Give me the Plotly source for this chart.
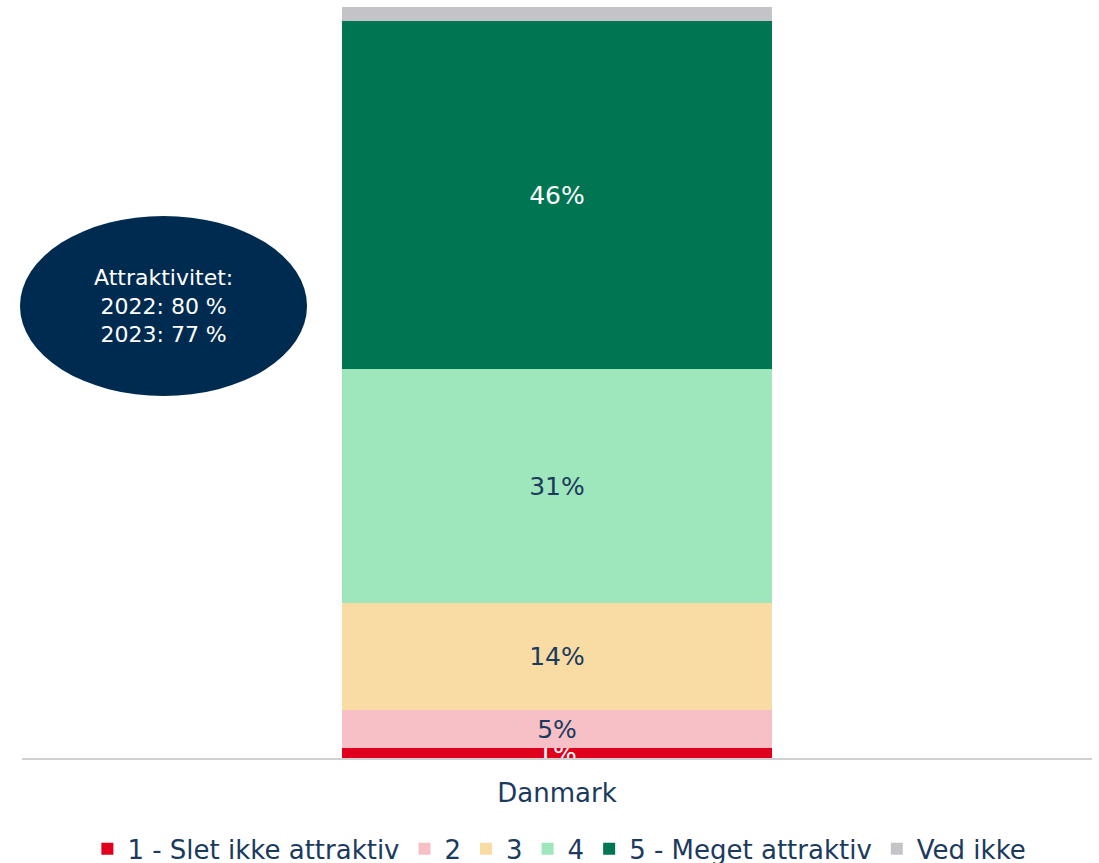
import plotly.graph_objects as go

categories = ["Danmark"]
series_names = ["1 - Slet ikke attraktiv", "2", "3", "4", "5 - Meget attraktiv", "Ved ikke"]
series_values = [[1.3], [5.1], [14.2], [31.2], [46.3], [1.9]]
series_labels = [["1%"], ["5%"], ["14%"], ["31%"], ["46%"], [""]]
colors = ["#E0001E", "#F6C0C6", "#F9DCA4", "#9EE6BB", "#007552", "#C4C4C8"]
text_colors = ["#FFFFFF", "#1B3A5E", "#1B3A5E", "#1B3A5E", "#FFFFFF", "#1B3A5E"]
note_text = "Attraktivitet:<br>2022: 80 %<br>2023: 77 %"

FONT = "DejaVu Sans"
fig = go.Figure()
for name, vals, labs, col, tcol in zip(series_names, series_values, series_labels, colors, text_colors):
    fig.add_trace(go.Bar(
        x=categories, y=vals, name=name, marker=dict(color=col, line=dict(width=0)),
        text=labs, texttemplate="%{text}", textposition="inside", insidetextanchor="middle",
        constraintext="none", textfont=dict(color=tcol, size=25, family=FONT),
        width=0.401, hoverinfo="skip",
    ))

fig.update_layout(
    barmode="stack",
    width=1099, height=863,
    margin=dict(l=22, r=7, t=7, b=105, autoexpand=False),
    plot_bgcolor="white", paper_bgcolor="white",
    font=dict(family=FONT, color="#1B3A5E"),
    showlegend=True,
    legend=dict(orientation="h", x=0.509, xanchor="center", xref="container",
                y=0.0165, yanchor="middle", yref="container",
                font=dict(size=26, color="#1B3A5E", family=FONT), itemwidth=30,
                traceorder="normal", itemclick=False),
    xaxis=dict(showline=True, linecolor="#D0D0D0", linewidth=1.5, tickfont=dict(size=26, color="#1B3A5E"),
               ticks="", range=[-0.5, 0.5], automargin=False, ticklabelstandoff=11),
    yaxis=dict(range=[0, 100], visible=False, showgrid=False),
)

fig.add_shape(type="circle", xref="paper", yref="paper", x0=-0.0019, x1=0.2664, y0=0.482, y1=0.7217,
              fillcolor="#002B50", line=dict(width=0), layer="above")
fig.add_annotation(xref="paper", yref="paper", x=0.1318, y=0.602, xanchor="center", yanchor="middle",
                   text=note_text, showarrow=False,
                   font=dict(size=22, color="white", family=FONT), align="center")

fig.write_html("out.html", config={"displayModeBar": False},
               post_script="document.body.style.margin='0px';")
